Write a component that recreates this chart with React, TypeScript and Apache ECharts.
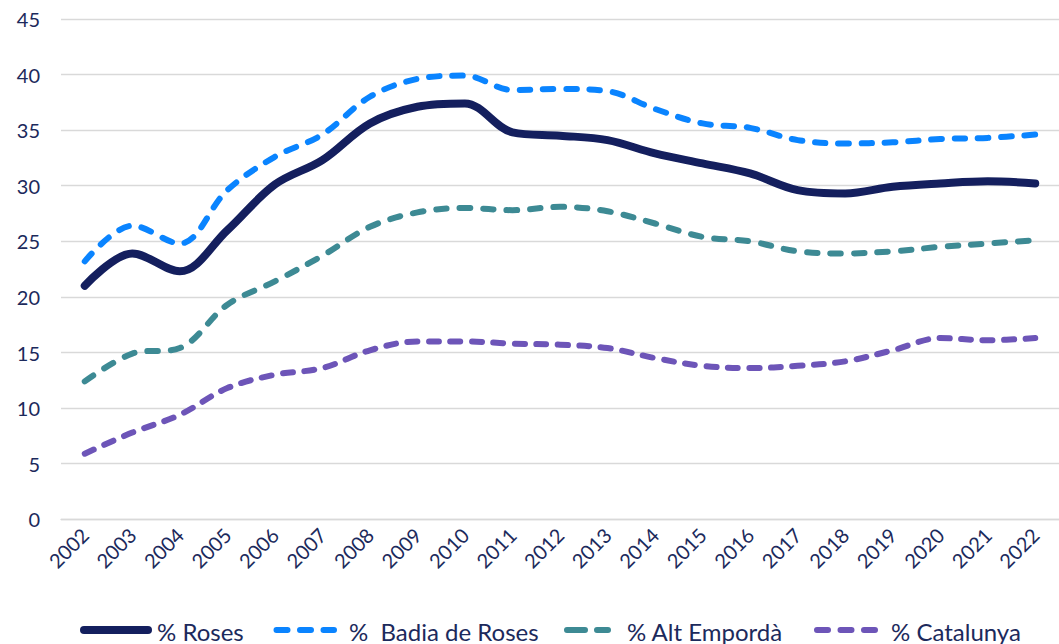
import React, { useEffect, useRef } from "react";
import * as echarts from "echarts";

const years = ["2002","2003","2004","2005","2006","2007","2008","2009","2010","2011","2012","2013","2014","2015","2016","2017","2018","2019","2020","2021","2022"];
const roses = [21.0, 23.9, 22.3, 26.0, 30.1, 32.3, 35.6, 37.1, 37.4, 34.8, 34.5, 34.1, 32.9, 32.0, 31.1, 29.6, 29.3, 29.9, 30.2, 30.4, 30.2];
const badia = [23.2, 26.4, 24.8, 29.6, 32.6, 34.6, 38.0, 39.6, 39.9, 38.6, 38.7, 38.5, 36.9, 35.6, 35.2, 34.1, 33.8, 33.9, 34.2, 34.3, 34.6];
const altEmporda = [12.4, 14.9, 15.4, 19.3, 21.4, 23.7, 26.3, 27.6, 28.0, 27.8, 28.1, 27.7, 26.6, 25.4, 25.0, 24.1, 23.9, 24.1, 24.5, 24.8, 25.1];
const catalunya = [5.9, 7.8, 9.4, 11.8, 13.0, 13.6, 15.2, 16.0, 16.0, 15.8, 15.7, 15.4, 14.5, 13.8, 13.6, 13.8, 14.2, 15.2, 16.3, 16.1, 16.3];
const seriesNames = ["% Roses", "%  Badia de Roses", "% Alt Empordà", "% Catalunya"];
const seriesColors = ["#141f5e", "#0a84ff", "#3d8a94", "#6d55b8"];

const TEXT = "#1c2a5c";
const FONT = "Lato";

export default function App() {
  const ref = useRef<HTMLDivElement>(null);
  useEffect(() => {
    document.body.style.margin = "0";
    const chart = echarts.init(ref.current!, null, { renderer: "svg" });
    const mk = (i: number, data: number[], width: number, dash: any) => ({
      name: seriesNames[i],
      type: "line",
      data,
      smooth: 0.35,
      symbol: "none",
      lineStyle: { color: seriesColors[i], width, type: dash, cap: "round", join: "round" },
      itemStyle: { color: seriesColors[i] },
    });
    const legendY = 630;
    const legendLine = (i: number, x1: number, x2: number, width: number, dash: number[] | null) => ({
      type: "line",
      shape: { x1, y1: legendY, x2, y2: legendY },
      style: { stroke: seriesColors[i], lineWidth: width, lineCap: "round", lineDash: dash || undefined },
      silent: true,
    });
    const legendText = (i: number, x: number) => ({
      type: "text",
      x,
      y: legendY + 1,
      style: {
        text: seriesNames[i],
        fill: TEXT,
        font: `24px ${FONT}`,
        textVerticalAlign: "middle",
        textAlign: "left",
      },
      silent: true,
    });
    chart.setOption({
      animation: false,
      grid: { left: 61, right: -11, top: 18.9, bottom: 124.7, containLabel: false },
      xAxis: {
        type: "category",
        data: years,
        boundaryGap: true,
        axisLine: { show: true, lineStyle: { color: "#d9d9d9", width: 1.3 } },
        axisTick: { show: false },
        axisLabel: { rotate: 45, margin: 12, color: TEXT, fontFamily: FONT, fontSize: 20, interval: 0 },
      },
      yAxis: {
        type: "value",
        min: 0,
        max: 45,
        interval: 5,
        axisLine: { show: false },
        axisTick: { show: false },
        splitLine: { lineStyle: { color: "#d9d9d9", width: 1.3 } },
        axisLabel: { margin: 21, color: TEXT, fontFamily: FONT, fontSize: 20 },
      },
      legend: { show: false },
      graphic: [
        legendLine(0, 84, 148, 8, null),
        legendText(0, 157),
        legendLine(1, 276.5, 334, 6, [11, 12.5]),
        legendText(1, 349),
        legendLine(2, 567, 608, 6, [18, 12]),
        legendText(2, 627),
        legendLine(3, 817, 875, 6, [11, 12.5]),
        legendText(3, 891),
      ],
      series: [
        mk(0, roses, 8, "solid"),
        mk(1, badia, 6, [10.5, 12.8]),
        mk(2, altEmporda, 6, [10.5, 13]),
        mk(3, catalunya, 6, [10, 11.5]),
      ],
    });
    return () => chart.dispose();
  }, []);
  return <div ref={ref} style={{ width: 1059, height: 644 }} />;
}
